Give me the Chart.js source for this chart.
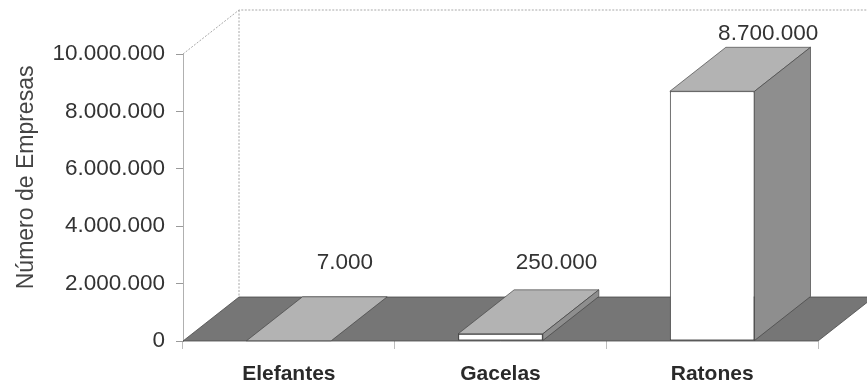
<!DOCTYPE html>
<html>
<head>
<meta charset="utf-8">
<script src="https://cdn.jsdelivr.net/npm/chart.js@4/dist/chart.umd.min.js"></script>
<style>
  html, body { margin: 0; padding: 0; background: #ffffff; }
  #wrap { width: 867px; height: 381px; }
</style>
</head>
<body>
<div id="wrap"><canvas id="c" width="867" height="381"></canvas></div>
<script>
// ---- data ----
const categories = ['Elefantes', 'Gacelas', 'Ratones'];
const empresas = [7000, 250000, 8700000];
const valueLabels = ['7.000', '250.000', '8.700.000'];
const yTickValues = [0, 2000000, 4000000, 6000000, 8000000, 10000000];
const yAxisTitle = 'Número de Empresas';

// ---- style ----
const FONT = '"Liberation Sans", Arial, Helvetica, sans-serif';
const DX = 56, DY = -44;

function fmt(v) {
  return String(Math.round(v)).replace(/\B(?=(\d{3})+(?!\d))/g, '.');
}

const threeD = {
  id: 'threeD',
  beforeDatasetsDraw(chart) {
    const ctx = chart.ctx;
    const { left, right, top, bottom } = chart.chartArea;
    ctx.save();
    // back wall outline (dotted)
    ctx.strokeStyle = '#a8a8a8';
    ctx.lineWidth = 1;
    ctx.setLineDash([2, 1.5]);
    ctx.beginPath();
    ctx.moveTo(left, top);
    ctx.lineTo(left + DX, top + DY);
    ctx.lineTo(chart.width, top + DY);
    ctx.moveTo(left + DX, top + DY);
    ctx.lineTo(left + DX, bottom + DY);
    ctx.stroke();
    ctx.setLineDash([]);
    // floor
    ctx.beginPath();
    ctx.moveTo(left, bottom);
    ctx.lineTo(right, bottom);
    ctx.lineTo(right + DX, bottom + DY);
    ctx.lineTo(left + DX, bottom + DY);
    ctx.closePath();
    ctx.fillStyle = '#767676';
    ctx.fill();
    ctx.strokeStyle = '#4a4a4a';
    ctx.lineWidth = 0.8;
    ctx.stroke();
    ctx.restore();
  },
  afterDatasetsDraw(chart) {
    const ctx = chart.ctx;
    const meta = chart.getDatasetMeta(0);
    const { top, bottom } = chart.chartArea;
    const floorBack = bottom + DY;
    ctx.save();
    meta.data.forEach((bar, i) => {
      const p = bar.getProps(['x', 'y', 'base', 'width'], true);
      const l = p.x - p.width / 2, r = p.x + p.width / 2;
      // top face
      ctx.beginPath();
      ctx.moveTo(l, p.y);
      ctx.lineTo(r, p.y);
      ctx.lineTo(r + DX, p.y + DY);
      ctx.lineTo(l + DX, p.y + DY);
      ctx.closePath();
      ctx.fillStyle = '#b3b3b3';
      ctx.fill();
      ctx.strokeStyle = 'rgba(60,60,60,0.8)';
      ctx.lineWidth = 0.8;
      ctx.stroke();
      // side face
      if (p.base - p.y > 0.5) {
        ctx.beginPath();
        ctx.moveTo(r, p.y);
        ctx.lineTo(r + DX, p.y + DY);
        ctx.lineTo(r + DX, p.base + DY);
        ctx.lineTo(r, p.base);
        ctx.closePath();
        ctx.fillStyle = '#8e8e8e';
        ctx.fill();
        ctx.stroke();
      }
      // value label
      const backTop = p.y + DY;
      const ly = Math.min(backTop - 14, floorBack - 34);
      ctx.fillStyle = '#333333';
      ctx.font = '22.5px ' + FONT;
      ctx.textAlign = 'center';
      ctx.textBaseline = 'middle';
      ctx.fillText(valueLabels[i], p.x + DX, ly);
    });
    // y-axis title (drawn slightly above the axis middle, as in the source)
    ctx.translate(27, top + (bottom - top) * 0.43);
    ctx.rotate(-Math.PI / 2);
    ctx.fillStyle = '#444444';
    ctx.font = '23px ' + FONT;
    ctx.textAlign = 'center';
    ctx.textBaseline = 'middle';
    ctx.fillText(yAxisTitle, 0, 0);
    ctx.restore();
  }
};

new Chart(document.getElementById('c'), {
  type: 'bar',
  data: {
    labels: categories,
    datasets: [{
      data: empresas,
      backgroundColor: '#ffffff',
      borderColor: '#3a3a3a',
      borderWidth: 1,
      borderSkipped: false,
      categoryPercentage: 1,
      barPercentage: 0.4
    }]
  },
  options: {
    responsive: false,
    devicePixelRatio: 1,
    animation: false,
    events: [],
    layout: { padding: { left: 14, right: 49, top: 54, bottom: 0 } },
    plugins: { legend: { display: false }, tooltip: { enabled: false } },
    scales: {
      x: {
        grid: { display: true, drawOnChartArea: false, offset: true, tickLength: 8, color: '#bdbdbd' },
        border: { display: false },
        ticks: { color: '#2a2a2a', font: { family: FONT, size: 21, weight: 'bold' }, padding: 13 },
        afterFit(scale) { scale.height = 40; }
      },
      y: {
        min: 0,
        max: 10000000,
        afterBuildTicks(scale) { scale.ticks = yTickValues.map(v => ({ value: v })); },
        grid: { display: true, drawOnChartArea: false, tickLength: 7, color: '#9a9a9a' },
        border: { display: true, color: '#b0b0b0', dash: [2, 1.5] },
        ticks: { color: '#333333', font: { family: FONT, size: 22.5 }, padding: 11, callback: v => fmt(v) },
        title: { display: false, text: yAxisTitle },
        afterFit(scale) { scale.width = 169; }
      }
    }
  },
  plugins: [threeD]
});
</script>
</body>
</html>
